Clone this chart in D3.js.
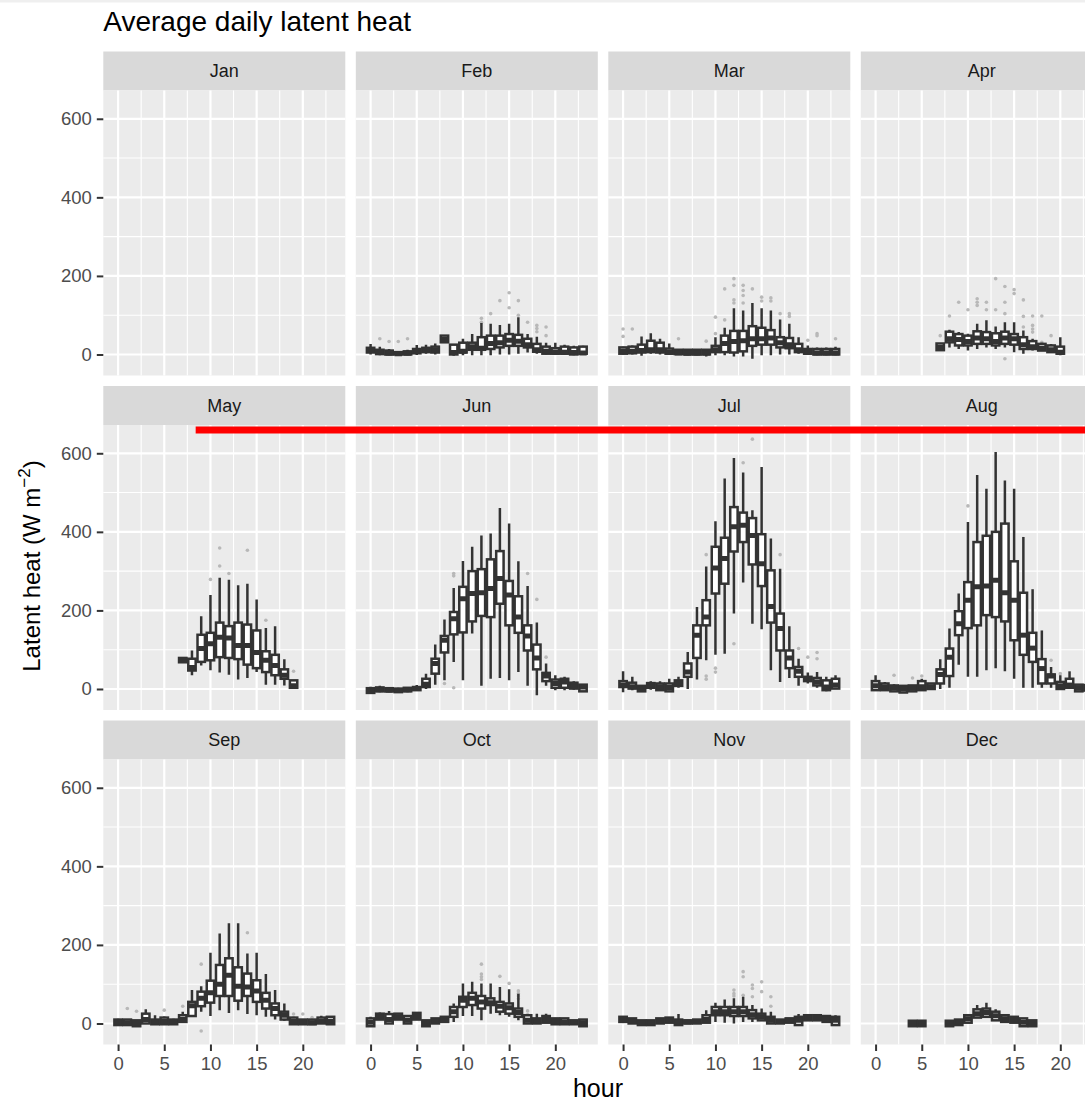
<!DOCTYPE html>
<html>
<head>
<meta charset="utf-8">
<script src="https://cdn.jsdelivr.net/npm/d3@7"></script>
<style>
  body { margin: 0; background: #ffffff; }
  svg { display: block; }
  text { font-family: "Liberation Sans", Arial, Helvetica, sans-serif; }
</style>
</head>
<body>
<svg id="chart" width="1085" height="1101"></svg>
<script>
// ---------------- DATA ----------------
const months = ["Jan", "Feb", "Mar", "Apr", "May", "Jun", "Jul", "Aug", "Sep", "Oct", "Nov", "Dec"];
const hourTicks = [0, 5, 10, 15, 20];
const hourMinor = [2.5, 7.5, 12.5, 17.5, 22.5];
const valueTicks = [0, 200, 400, 600];
const valueMinor = [100, 300, 500];
const titleText = "Average daily latent heat";
const xTitle = "hour";

// boxes: [hour, lower whisker, q1, median, q3, upper whisker]  (W m-2)
const boxesJan = [];
const boxesFeb = [
  [0, 0, 5, 10, 17, 27], [1, -2, 1, 5, 12, 20], [2, -2, 0, 3, 10, 14], [3, -2, 0, 2, 6, 8],
  [4, -2, 0, 3, 8, 12], [5, -1, 3, 8, 14, 24], [6, 2, 6, 10, 17, 25], [7, 0, 5, 12, 20, 28],
  [8, 30, 31, 38, 48, 48], [9, -3, 0, 5, 25, 27], [10, -2, 5, 8, 30, 40], [11, -2, 12, 20, 30, 52],
  [12, -2, 12, 16, 44, 80], [13, -2, 14, 28, 48, 78], [14, 0, 18, 30, 48, 75], [15, 0, 22, 36, 52, 78],
  [16, 2, 22, 34, 50, 95], [17, 5, 18, 25, 40, 52], [18, 2, 7, 12, 27, 45], [19, 0, 2, 8, 20, 30],
  [20, 0, 2, 6, 16, 30], [21, 0, 2, 6, 20, 25], [22, -2, 0, 5, 18, 22], [23, 0, 2, 4, 20, 22]
];
const boxesMar = [
  [0, 0, 2, 8, 18, 20], [1, 0, 3, 8, 20, 23], [2, -3, 5, 10, 25, 46], [3, 2, 6, 12, 35, 54],
  [4, 0, 5, 12, 30, 40], [5, 0, 2, 6, 15, 28], [6, -1, 1, 4, 12, 14], [7, -2, 0, 3, 12, 14],
  [8, -2, 0, 3, 12, 14], [9, -5, 0, 4, 12, 14], [10, -2, 6, 12, 22, 44], [11, -2, 6, 28, 48, 68],
  [12, -5, 5, 33, 60, 118], [13, -5, 8, 35, 60, 112], [14, -11, 22, 40, 72, 131], [15, -2, 25, 40, 68, 118],
  [16, -2, 25, 42, 62, 112], [17, 0, 18, 30, 44, 89], [18, 0, 16, 25, 42, 78], [19, 2, 6, 12, 27, 44],
  [20, 0, 2, 6, 14, 23], [21, -2, 0, 4, 14, 18], [22, -2, 0, 4, 14, 18], [23, -2, 0, 4, 14, 20]
];
const boxesApr = [
  [7, 10, 11, 18, 28, 29], [8, 18, 31, 40, 58, 63], [9, 14, 23, 38, 52, 57], [10, 10, 23, 33, 48, 53],
  [11, 14, 27, 42, 59, 78], [12, 18, 27, 40, 57, 87], [13, 14, 23, 33, 54, 71], [14, 18, 27, 42, 58, 82],
  [15, 6, 25, 40, 52, 82], [16, 2, 14, 25, 44, 61], [17, 10, 14, 20, 34, 40], [18, 10, 10, 16, 27, 30],
  [19, 6, 6, 12, 23, 27], [20, -2, 2, 6, 20, 44]
];
const boxesMay = [
  [7, 67, 68, 75, 79, 80], [8, 35, 47, 55, 77, 98], [9, 60, 69, 103, 138, 185], [10, 48, 73, 115, 143, 239],
  [11, 42, 81, 132, 169, 283], [12, 36, 79, 130, 160, 278], [13, 24, 76, 111, 169, 264], [14, 28, 62, 111, 164, 268],
  [15, 43, 53, 93, 149, 228], [16, 11, 43, 73, 96, 155], [17, 11, 35, 60, 87, 160], [18, 9, 26, 35, 50, 76],
  [19, 3, 3, 8, 22, 22]
];
const boxesJun = [
  [0, -12, -10, -5, 2, 6], [1, -8, -6, -2, 4, 8], [2, -8, -6, -3, 2, 5], [3, -10, -8, -4, 1, 3],
  [4, -8, -6, -2, 3, 5], [5, -5, -3, 1, 5, 10], [6, 0, 5, 12, 26, 39], [7, 11, 39, 65, 77, 113],
  [8, 22, 93, 124, 135, 177], [9, 69, 139, 179, 196, 257], [10, 22, 144, 230, 260, 326], [11, 141, 172, 243, 300, 362],
  [12, 8, 186, 245, 305, 391], [13, 26, 183, 256, 330, 396], [14, 28, 217, 281, 351, 461], [15, 22, 162, 239, 275, 421],
  [16, 43, 143, 183, 236, 325], [17, 8, 98, 135, 162, 262], [18, -16, 50, 79, 113, 169], [19, 8, 20, 33, 41, 65],
  [20, -3, 3, 14, 24, 35], [21, -3, 3, 18, 26, 31], [22, -2, 1, 9, 16, 20], [23, -6, -6, 5, 11, 11]
];
const boxesJul = [
  [0, -8, 5, 10, 20, 45], [1, -3, 1, 6, 16, 31], [2, -6, -6, 0, 8, 8], [3, -2, 3, 10, 15, 20],
  [4, -5, -3, 6, 14, 20], [5, -6, -6, 4, 14, 26], [6, 3, 8, 15, 22, 31], [7, 0, 31, 43, 65, 94],
  [8, 24, 79, 137, 162, 209], [9, 73, 162, 183, 226, 312], [10, 87, 243, 308, 362, 427], [11, 90, 268, 332, 385, 536],
  [12, 192, 350, 413, 463, 588], [13, 271, 374, 417, 449, 551], [14, 166, 317, 391, 435, 455], [15, 152, 262, 319, 394, 565],
  [16, 48, 169, 210, 302, 383], [17, 18, 98, 154, 192, 306], [18, 28, 53, 79, 98, 160], [19, 8, 31, 45, 56, 77],
  [20, 14, 20, 26, 31, 42], [21, 3, 9, 18, 28, 43], [22, -6, -3, 5, 22, 31], [23, 0, 1, 10, 26, 35]
];
const boxesAug = [
  [0, -3, -3, 8, 20, 35], [1, -3, -3, 5, 14, 18], [2, -6, -6, 3, 9, 12], [3, -9, -9, 0, 8, 8],
  [4, -6, -6, 2, 9, 10], [5, -3, -3, 6, 20, 26], [6, 0, 0, 6, 14, 14], [7, 0, 14, 37, 50, 76],
  [8, 3, 33, 81, 103, 154], [9, 62, 137, 166, 198, 243], [10, 31, 155, 226, 272, 425], [11, 31, 162, 260, 374, 545],
  [12, 48, 188, 262, 390, 510], [13, 53, 183, 277, 400, 603], [14, 45, 172, 245, 421, 531], [15, 26, 124, 226, 325, 510],
  [16, 3, 87, 137, 245, 387], [17, 3, 69, 104, 143, 254], [18, 3, 14, 52, 76, 149], [19, 3, 14, 33, 37, 56],
  [20, -1, 0, 8, 18, 35], [21, 3, 3, 10, 26, 45], [22, -6, -6, 3, 11, 11], [23, -5, -4, 2, 10, 14]
];
const boxesSep = [
  [0, -4, -4, 3, 10, 12], [1, -4, -4, 2, 10, 10], [2, -7, -7, 0, 8, 8], [3, 0, 0, 10, 25, 36],
  [4, -2, -2, 3, 10, 21], [5, -2, -2, 5, 15, 18], [6, -2, -2, 3, 10, 12], [7, 4, 4, 10, 21, 30],
  [8, 17, 19, 45, 55, 85], [9, 30, 44, 64, 81, 95], [10, 19, 53, 78, 109, 180], [11, 34, 70, 100, 149, 229],
  [12, 27, 70, 123, 166, 255], [13, 34, 58, 95, 143, 255], [14, 24, 70, 93, 127, 178], [15, 21, 55, 83, 110, 180],
  [16, 17, 38, 59, 78, 126], [17, 10, 21, 38, 51, 85], [18, 7, 10, 21, 30, 51], [19, -2, -2, 5, 15, 17],
  [20, -2, -2, 3, 10, 10], [21, -2, -2, 2, 10, 10], [22, 0, 0, 5, 15, 20], [23, -2, -2, 6, 17, 17]
];
const boxesOct = [
  [0, -7, -7, 3, 13, 17], [1, 10, 10, 18, 25, 28], [2, 0, 0, 10, 24, 32], [3, 10, 10, 17, 25, 25],
  [4, 0, 0, 8, 19, 19], [5, 10, 10, 18, 27, 27], [6, -7, -7, 0, 8, 8], [7, 0, 0, 6, 13, 13],
  [8, 4, 4, 10, 17, 17], [9, 4, 17, 30, 42, 51], [10, 19, 42, 59, 68, 102], [11, 19, 47, 64, 78, 106],
  [12, 8, 38, 55, 70, 102], [13, 25, 47, 53, 64, 102], [14, 21, 30, 44, 55, 93], [15, 17, 25, 40, 51, 87],
  [16, 8, 17, 28, 38, 76], [17, 0, 0, 8, 21, 25], [18, 0, 0, 6, 13, 25], [19, 2, 2, 10, 19, 25],
  [20, -2, -2, 5, 13, 13], [21, -2, -2, 4, 13, 13], [22, -2, -2, 3, 8, 8], [23, -7, -7, 2, 10, 10]
];
const boxesNov = [
  [0, 4, 4, 10, 17, 17], [1, 0, 0, 6, 13, 13], [2, -4, -4, 2, 8, 8], [3, -4, -4, 2, 8, 8],
  [4, 0, 0, 6, 13, 13], [5, 2, 2, 8, 15, 15], [6, -4, -4, 4, 10, 24], [7, 0, 0, 4, 8, 8],
  [8, 0, 0, 5, 10, 10], [9, 2, 2, 10, 21, 34], [10, 4, 21, 30, 42, 53], [11, 2, 21, 30, 42, 61],
  [12, 0, 19, 30, 42, 64], [13, 4, 19, 30, 42, 68], [14, 4, 13, 22, 34, 47], [15, 8, 8, 17, 25, 38],
  [16, 0, 0, 8, 17, 30], [17, 0, 0, 5, 10, 10], [18, 2, 2, 8, 13, 13], [19, -4, -4, 8, 17, 24],
  [20, 8, 8, 15, 21, 21], [21, 8, 8, 15, 21, 21], [22, 4, 4, 12, 19, 21], [23, -4, -4, 8, 17, 21]
];
const boxesDec = [
  [4, -7, -7, 0, 7, 7], [5, -7, -7, 0, 7, 7], [8, -7, -7, 0, 7, 7], [9, -4, -4, 3, 10, 10],
  [10, 2, 2, 12, 21, 21], [11, 15, 15, 25, 36, 47], [12, 17, 17, 28, 38, 53], [13, 8, 8, 20, 30, 36],
  [14, 4, 4, 12, 21, 21], [15, 2, 2, 10, 17, 17], [16, -7, -7, 3, 13, 13], [17, -7, -7, 0, 8, 8]
];

// outliers: [hour, value]
const outliersJan = [];
const outliersFeb = [[1, 40], [2, 33], [3, 33], [4, 40], [12, 82], [12, 92], [13, 104], [14, 137], [15, 157], [15, 119],
  [16, 137], [16, 100], [17, 82], [18, 74], [18, 66], [18, 58], [19, 70], [19, 48]];
const outliersMar = [[0, 65], [0, 46], [1, 65], [6, 40], [9, 34], [10, 95], [10, 53], [11, 167], [11, 88],
  [12, 193], [12, 176], [12, 139], [12, 131], [13, 176], [13, 163], [13, 150], [13, 131], [14, 167],
  [15, 146], [15, 136], [16, 144], [16, 136], [17, 104], [18, 104], [18, 97], [20, 36], [21, 53], [21, 48], [23, 40]];
const outliersApr = [[7, 48], [8, 98], [9, 133], [10, 114], [11, 142], [11, 133], [11, 125], [12, 133], [12, 114],
  [13, 193], [13, 114], [14, 173], [14, 133], [14, 104], [14, -11], [15, 165], [15, 155], [16, 139], [16, 97], [16, 70],
  [17, 98], [17, 74], [17, 65], [17, 57], [18, 98], [18, 31], [19, 48]];
const outliersMay = [[10, 279], [11, 313], [11, 359], [12, 294], [14, 353], [16, 175], [19, 45]];
const outliersJun = [[9, 294], [9, 288], [9, 3], [8, 14], [17, 294], [18, 228], [19, 81]];
const outliersJul = [[14, 636], [13, 576], [9, 342], [9, 33], [9, 25], [10, 53], [10, 43], [12, 115], [17, 342],
  [19, 103], [20, 81], [21, 93], [21, 77]];
const outliersAug = [[10, 466], [2, 35], [4, 28], [5, 33], [19, 73], [20, 39]];
const outliersSep = [[1, 38], [2, 31], [5, 34], [7, 44], [9, 151], [9, -19], [14, 231], [19, 24], [20, 24], [21, 15]];
const outliersOct = [[12, 151], [12, 126], [12, 119], [12, 112], [14, 120], [15, 102], [16, 83], [16, 76], [16, 70], [16, 63], [17, 32]];
const outliersNov = [[12, 85], [12, 76], [12, 70], [13, 132], [13, 119], [13, 72], [14, 98], [14, 89], [14, 68],
  [15, 106], [15, 81], [16, 68], [16, 44]];
const outliersDec = [];

// Red highlight annotation (drawn in data units of the May panel, extends across the row)
const highlightMonth = "May";
const highlightHour = 8.4;
const highlightValue = 659;

// ---------------- BUILD ----------------
const boxesByMonth = {Jan: boxesJan, Feb: boxesFeb, Mar: boxesMar, Apr: boxesApr, May: boxesMay, Jun: boxesJun,
  Jul: boxesJul, Aug: boxesAug, Sep: boxesSep, Oct: boxesOct, Nov: boxesNov, Dec: boxesDec};
const outliersByMonth = {Jan: outliersJan, Feb: outliersFeb, Mar: outliersMar, Apr: outliersApr, May: outliersMay,
  Jun: outliersJun, Jul: outliersJul, Aug: outliersAug, Sep: outliersSep, Oct: outliersOct, Nov: outliersNov, Dec: outliersDec};

const L = {left: 103.3, colStep: 252.5, panelW: 242, top: 51.5, rowStep: 334.5, stripH: 39, panelH: 285};
const x = d3.scaleLinear().domain([-1.6, 24.6]).range([0, L.panelW]);
const y = d3.scaleLinear().domain([-53.5, 672]).range([L.panelH, 0]);
const boxHalf = 0.4;
const ink = "#333333";
const lw = 2.5;

const svg = d3.select("#chart");
svg.append("rect").attr("x", 0).attr("y", 0).attr("width", 1085).attr("height", 2.5).attr("fill", "#efefef");

svg.append("text").attr("x", L.left).attr("y", 31).attr("font-size", 28).attr("fill", "#000").text(titleText);

const defs = svg.append("defs");
const panelPos = {};

months.forEach((m, i) => {
  const col = i % 4, row = Math.floor(i / 4);
  const px = L.left + col * L.colStep;
  const sy = L.top + row * L.rowStep;
  const py = sy + L.stripH;
  panelPos[m] = {px, py};

  // strip
  svg.append("rect").attr("x", px).attr("y", sy).attr("width", L.panelW).attr("height", L.stripH).attr("fill", "#D9D9D9");
  svg.append("text").attr("x", px + L.panelW / 2).attr("y", sy + L.stripH / 2).attr("dy", "0.35em")
    .attr("text-anchor", "middle").attr("font-size", 18).attr("fill", "#1A1A1A").text(m);

  const clipId = "clip" + i;
  defs.append("clipPath").attr("id", clipId).append("rect").attr("width", L.panelW).attr("height", L.panelH);

  const g = svg.append("g").attr("transform", `translate(${px},${py})`);
  g.append("rect").attr("width", L.panelW).attr("height", L.panelH).attr("fill", "#EBEBEB");

  // grid
  g.selectAll(".hminor").data(valueMinor).join("line")
    .attr("x1", 0).attr("x2", L.panelW).attr("y1", d => y(d)).attr("y2", d => y(d))
    .attr("stroke", "#fff").attr("stroke-width", 1.1);
  g.selectAll(".vminor").data(hourMinor).join("line")
    .attr("y1", 0).attr("y2", L.panelH).attr("x1", d => x(d)).attr("x2", d => x(d))
    .attr("stroke", "#fff").attr("stroke-width", 1.1);
  g.selectAll(".hmajor").data(valueTicks).join("line")
    .attr("x1", 0).attr("x2", L.panelW).attr("y1", d => y(d)).attr("y2", d => y(d))
    .attr("stroke", "#fff").attr("stroke-width", 2.2);
  g.selectAll(".vmajor").data(hourTicks).join("line")
    .attr("y1", 0).attr("y2", L.panelH).attr("x1", d => x(d)).attr("x2", d => x(d))
    .attr("stroke", "#fff").attr("stroke-width", 2.2);

  const dg = g.append("g").attr("clip-path", `url(#${clipId})`);
  // outliers
  dg.selectAll("circle").data(outliersByMonth[m]).join("circle")
    .attr("cx", d => x(d[0])).attr("cy", d => y(d[1])).attr("r", 1.8).attr("fill", "#b8b8b8");
  const bg = dg.selectAll("g.box").data(boxesByMonth[m]).join("g").attr("class", "box");
  bg.append("line").attr("x1", d => x(d[0])).attr("x2", d => x(d[0]))
    .attr("y1", d => y(d[1])).attr("y2", d => y(d[2])).attr("stroke", ink).attr("stroke-width", lw);
  bg.append("line").attr("x1", d => x(d[0])).attr("x2", d => x(d[0]))
    .attr("y1", d => y(d[4])).attr("y2", d => y(d[5])).attr("stroke", ink).attr("stroke-width", lw);
  bg.append("rect").attr("x", d => x(d[0] - boxHalf)).attr("width", d => x(d[0] + boxHalf) - x(d[0] - boxHalf))
    .attr("y", d => y(d[4])).attr("height", d => Math.max(0.01, y(d[2]) - y(d[4])))
    .attr("fill", "#fff").attr("stroke", ink).attr("stroke-width", lw);
  bg.append("line").attr("x1", d => x(d[0] - boxHalf)).attr("x2", d => x(d[0] + boxHalf))
    .attr("y1", d => y(d[3])).attr("y2", d => y(d[3])).attr("stroke", ink).attr("stroke-width", 5);

  // axes
  if (col === 0) {
    const ax = g.append("g").call(d3.axisLeft(y).tickValues(valueTicks).tickSize(6.5).tickPadding(5));
    ax.select(".domain").remove();
    ax.selectAll(".tick line").attr("stroke", ink).attr("stroke-width", 2);
    ax.selectAll(".tick text").attr("font-size", 18.5).attr("fill", "#4D4D4D")
      .attr("font-family", "Liberation Sans, Arial, sans-serif");
  }
  if (row === 2) {
    const ax = g.append("g").attr("transform", `translate(0,${L.panelH})`)
      .call(d3.axisBottom(x).tickValues(hourTicks).tickSize(6.5).tickPadding(6));
    ax.select(".domain").remove();
    ax.selectAll(".tick line").attr("stroke", ink).attr("stroke-width", 2);
    ax.selectAll(".tick text").attr("font-size", 18.5).attr("fill", "#4D4D4D")
      .attr("font-family", "Liberation Sans, Arial, sans-serif");
  }
});

// highlight annotation
{
  const p = panelPos[highlightMonth];
  const yy = p.py + y(highlightValue);
  svg.append("line").attr("x1", p.px + x(highlightHour)).attr("x2", 1085 + 20)
    .attr("y1", yy).attr("y2", yy).attr("stroke", "#FF0000").attr("stroke-width", 7);
}

// axis titles
svg.append("text").attr("x", 598).attr("y", 1097).attr("text-anchor", "middle")
  .attr("font-size", 25).attr("fill", "#000").text(xTitle);

const yt = svg.append("text").attr("transform", "translate(40,566) rotate(-90)")
  .attr("text-anchor", "middle").attr("font-size", 24).attr("fill", "#000");
yt.append("tspan").text("Latent heat (W m");
yt.append("tspan").attr("font-size", 17).attr("dy", -10).text("\u22122");
yt.append("tspan").attr("dy", 10).text(")");
</script>
</body>
</html>
